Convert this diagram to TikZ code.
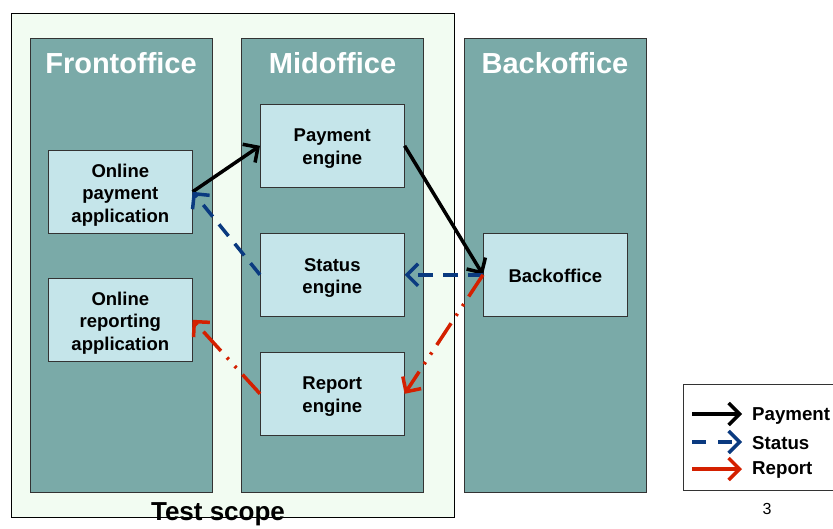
\documentclass[tikz,border=0pt]{standalone}
\usepackage{fontspec}
\setmainfont{Liberation Sans}
\usetikzlibrary{arrows.meta}
\definecolor{scopefill}{HTML}{F2FCF2}
\definecolor{colfill}{HTML}{7AAAA8}
\definecolor{boxfill}{HTML}{C5E5EA}
\definecolor{statblue}{HTML}{0A3A80}
\definecolor{repred}{HTML}{D42000}
\tikzset{
  col/.style={draw=black!80, line width=0.8pt, fill=colfill, minimum width=182pt, minimum height=454pt, anchor=north west, inner sep=0pt},
  coltitle/.style={text=white, font=\fontsize{29}{32}\selectfont\bfseries},
  eng/.style={draw=black!80, line width=0.6pt, fill=boxfill, minimum width=144pt, minimum height=83pt, anchor=north west, inner sep=0pt, align=center, font=\fontsize{18.5}{22.5}\selectfont\bfseries},
  engtxt/.style={align=center, font=\fontsize{18.5}{22.5}\selectfont\bfseries, inner sep=0pt},
  tip/.style={-{Straight Barb[length=11pt,width=22pt,line width=3.5pt]}},
  payarr/.style={tip, line width=3.5pt, black},
  statarr/.style={tip, line width=3.5pt, statblue, dash pattern=on 15pt off 10pt},
  reparr/.style={tip, line width=3.5pt, repred, dash pattern=on 26pt off 9pt on 2.5pt off 9pt on 2.5pt off 9pt},
  legtxt/.style={anchor=west, font=\fontsize{18.7}{20}\selectfont\bfseries, inner sep=0pt}
}
\begin{document}
\begin{tikzpicture}[x=1pt,y=-1pt]
\useasboundingbox (0,0) rectangle (833,528);
% test scope
\node[draw=black, line width=0.8pt, fill=scopefill, minimum width=443pt, minimum height=504pt, anchor=north west, inner sep=0pt] (scope) at (11,13) {};
% columns
\node[col] (front) at (30,38) {};
\node[col] (mid) at (241,38) {};
\node[col] (back) at (464,38) {};
\node[coltitle] (tfront) at (121,63) {Frontoffice};
\node[coltitle] (tmid) at (332.5,63) {Midoffice};
\node[coltitle] (tback) at (555,63) {Backoffice};
% boxes
\node[eng] (opa) at (48,150) {};
\node[eng] (ora) at (48,278) {};
\node[eng] (pe) at (260,104) {};
\node[eng] (se) at (260,233) {};
\node[eng] (re) at (260,352) {};
\node[eng] (bo) at (483,233) {};
\node[engtxt] (opat) at ([yshift=-3pt]opa.center) {Online\\payment\\application};
\node[engtxt] (orat) at ([yshift=-3pt]ora.center) {Online\\reporting\\application};
\node[engtxt] (pet) at ([yshift=-3pt]pe.center) {Payment\\engine};
\node[engtxt] (set) at ([yshift=-3pt]se.center) {Status\\engine};
\node[engtxt] (ret) at ([yshift=-3pt]re.center) {Report\\engine};
\node[engtxt] (bot) at ([yshift=-1pt]bo.center) {Backoffice};
% arrows
\draw[payarr] (opa.east) -- (pe.west);
\draw[payarr] (pe.east) -- (bo.west);
\draw[statarr] (bo.west) -- (se.east);
\draw[statarr] (se.west) -- (opa.east);
\draw[reparr] (bo.west) -- (re.east);
\draw[reparr] (re.west) -- (ora.east);
% test scope label
\node[font=\fontsize{26}{28}\selectfont\bfseries, inner sep=0pt] (tslabel) at (218,514) {Test scope};
% legend
\node[draw=black!80, line width=0.8pt, fill=white, minimum width=150pt, minimum height=106pt, anchor=north west, inner sep=0pt] (legend) at (683,384) {};
\coordinate (l1a) at (692,414); \coordinate (l1b) at (742,414);
\coordinate (l2a) at (692,442); \coordinate (l2b) at (742,442);
\coordinate (l3a) at (692,469); \coordinate (l3b) at (742,469);
\draw[payarr] (l1a) -- (l1b);
\draw[tip, line width=3.5pt, statblue, dash pattern=on 14pt off 12pt] (l2a) -- (l2b);
\draw[tip, line width=3.5pt, repred] (l3a) -- (l3b);
\node[legtxt] (lt1) at (752,416) {Payment};
\node[legtxt] (lt2) at (752,443) {Status};
\node[legtxt] (lt3) at (752,470) {Report};
\node[font=\fontsize{16}{18}\selectfont, inner sep=0pt] (pnum) at (767,509) {3};
\end{tikzpicture}
\end{document}
